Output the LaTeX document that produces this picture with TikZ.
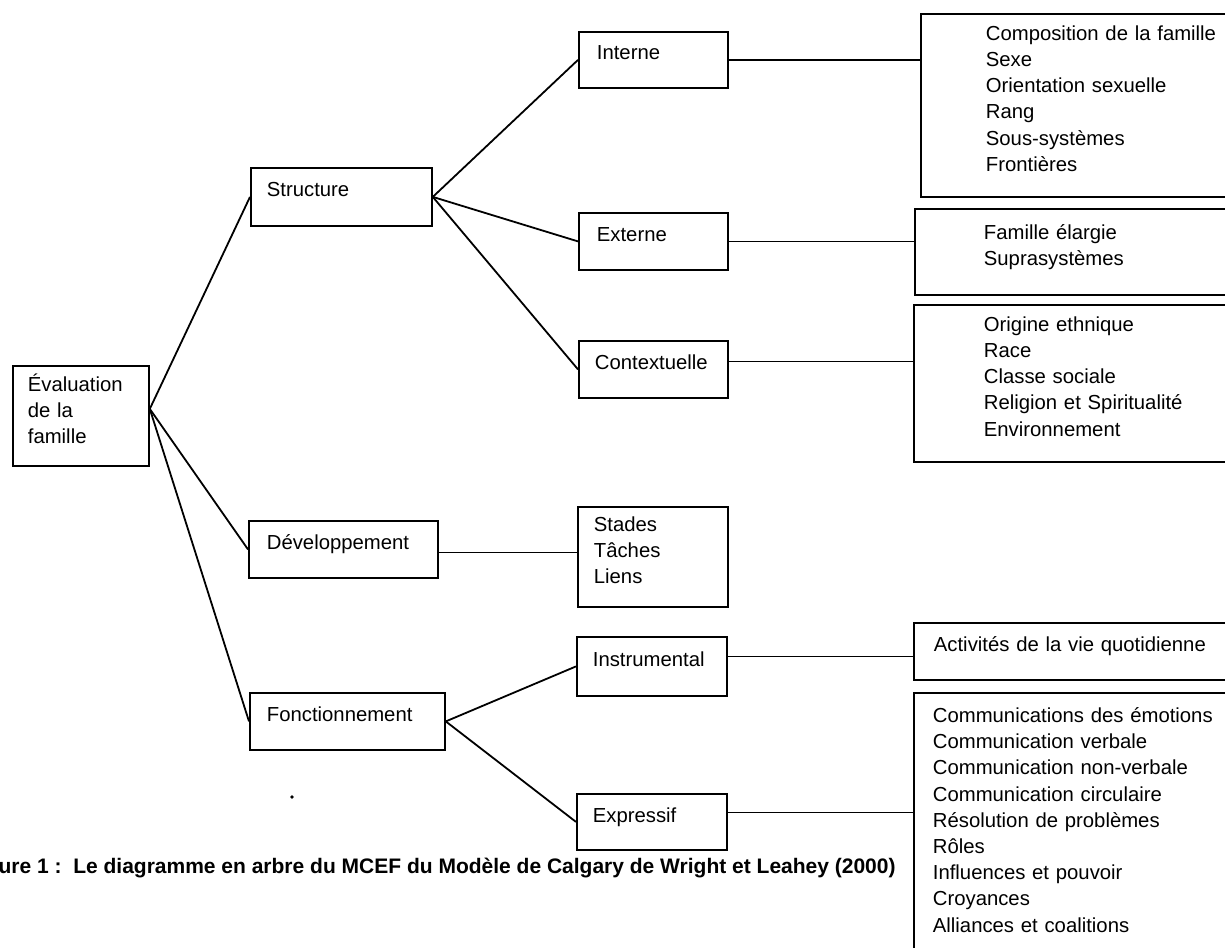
\documentclass[tikz,border=0pt]{standalone}
\usepackage{fontspec}
\setmainfont{Liberation Sans}
\usetikzlibrary{positioning}
\tikzset{
  boite/.style={
    draw,
    line width=0.9pt,
    rectangle,
    anchor=north west,
    align=left,
    inner ysep=0pt,
    font=\fontsize{10.15}{13.1}\selectfont,
    execute at end node={\rule[-7pt]{0pt}{7pt}}
  },
  lien/.style={
    line width=0.9pt
  }
}

\begin{document}
\begin{tikzpicture}[x=0.5pt,y=-0.5pt]
  \useasboundingbox (0,0) rectangle (1225,947);
  \clip (0,0) rectangle (1225,947);

  \node[boite, minimum width=68pt, minimum height=50pt, inner xsep=7.5pt, text width=53pt] (eval) at (12,365) {Évaluation\\de la\\famille};

  \node[boite, minimum width=90.5pt, minimum height=29pt, inner xsep=8pt, text width=74.5pt] (structure) at (250,167) {Structure};
  \node[boite, minimum width=94.5pt, minimum height=28.5pt, inner xsep=9pt, text width=76.5pt] (dev) at (248,520) {Développement};
  \node[boite, minimum width=97.5pt, minimum height=28.5pt, inner xsep=8.5pt, text width=80.5pt] (fonct) at (249,692) {Fonctionnement};

  \node[boite, minimum width=74.5pt, minimum height=28pt, inner xsep=9pt, text width=56.5pt] (interne) at (578,31) {Interne};
  \node[boite, minimum width=74.5pt, minimum height=28.5pt, inner xsep=9pt, text width=56.5pt] (externe) at (578,212) {Externe};
  \node[boite, minimum width=74.5pt, minimum height=28.5pt, inner xsep=8pt, text width=58.5pt] (contexte) at (578,340) {Contextuelle};
  \node[boite, minimum width=75pt, minimum height=50pt, inner xsep=8pt, text width=59pt] (stades) at (577,506) {Stades\\Tâches\\Liens};
  \node[boite, minimum width=75pt, minimum height=29.5pt, inner xsep=8pt, text width=59pt] (instr) at (576,636) {Instrumental};
  \node[boite, minimum width=75pt, minimum height=28pt, inner xsep=8pt, text width=59pt] (expr) at (576,793) {Expressif};

  % boites de droite, coupees par le bord
  \node[boite, minimum width=185pt, minimum height=91.5pt, inner xsep=32.5pt, text width=120pt] (intdet) at (920,13)
    {Composition de la famille\\Sexe\\Orientation sexuelle\\Rang\\Sous-systèmes\\Frontières};
  \node[boite, minimum width=188pt, minimum height=43pt, inner xsep=34.5pt, text width=119pt] (extdet) at (914,208)
    {Famille élargie\\Suprasystèmes};
  \node[boite, minimum width=188.5pt, minimum height=78.5pt, inner xsep=35pt, text width=118.5pt] (ctxdet) at (913,304)
    {Origine ethnique\\Race\\Classe sociale\\Religion et Spiritualité\\Environnement};
  \node[boite, minimum width=188.5pt, minimum height=28.5pt, inner xsep=10pt, text width=168.5pt] (instdet) at (913,622)
    {Activités de la vie quotidienne};
  \node[boite, minimum width=188.5pt, minimum height=134pt, inner xsep=9.5pt, text width=169.5pt] (expdet) at (913,692)
    {Communications des émotions\\Communication verbale\\Communication non-verbale\\Communication circulaire\\Résolution de problèmes\\Rôles\\Influences et pouvoir\\Croyances\\Alliances et coalitions};

  \draw[lien] ([yshift=3.5pt]eval.east) -- (structure.west);
  \draw[lien] ([yshift=3.5pt]eval.east) -- (dev.west);
  \draw[lien] ([yshift=3.5pt]eval.east) -- (fonct.west);

  \draw[lien] (structure.east) -- (interne.west);
  \draw[lien] (structure.east) -- (externe.west);
  \draw[lien] (structure.east) -- (contexte.west);
  \draw[lien] (fonct.east) -- (instr.west);
  \draw[lien] (fonct.east) -- (expr.west);

  \draw[lien] (interne.east) -- (interne.east -| intdet.west);
  \draw[lien] (externe.east) -- (externe.east -| extdet.west);
  \draw[lien] ([yshift=4pt]contexte.east) coordinate (c1) -- (c1 -| ctxdet.west);
  \draw[lien] ([yshift=-1.5pt]dev.east) coordinate (d1) -- (d1 -| stades.west);
  \draw[lien] ([yshift=5pt]instr.east) coordinate (i1) -- (i1 -| instdet.west);
  \draw[lien] ([yshift=4.75pt]expr.east) coordinate (e1) -- (e1 -| expdet.west);

  \node[anchor=east, inner sep=0pt, font=\bfseries\fontsize{10.5}{12}\selectfont] (legende) at (896,868)
    {ure 1 :\ \ Le diagramme en arbre du MCEF du Modèle de Calgary de Wright et Leahey (2000)};
  \fill (292,797) circle (0.9pt);
\end{tikzpicture}
\end{document}
